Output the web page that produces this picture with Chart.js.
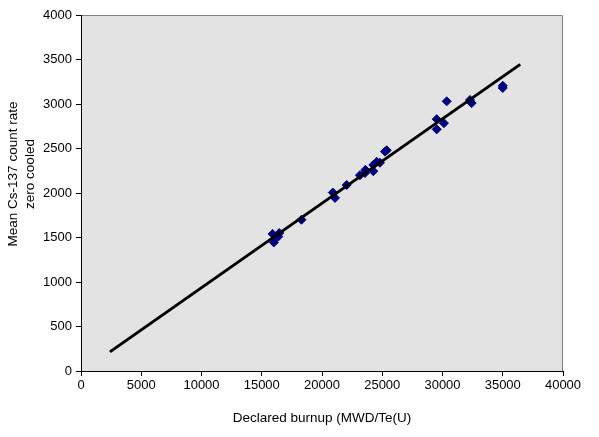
<!DOCTYPE html>
<html>
<head>
<meta charset="utf-8">
<script src="https://cdn.jsdelivr.net/npm/chart.js@4.4.0/dist/chart.umd.min.js"></script>
<style>
  html, body { margin: 0; padding: 0; background: #fff; }
  #wrap { width: 599px; height: 437px; }
</style>
</head>
<body>
<div id="wrap"><canvas id="chart" width="599" height="437"></canvas></div>
<script>
// measured points: declared burnup vs mean Cs-137 count rate
const burnup = [15900, 16000, 16450, 16370, 18300,
    20900, 21080, 22050, 23150, 23570, 24260, 23600,
    24260, 24540, 24810, 25370, 25230,
    29520, 29520, 30120, 30350, 32280, 32420, 35000, 35000];
const countRate = [1540, 1445, 1550, 1510, 1700,
    2005, 1945, 2090, 2200, 2225, 2245, 2260,
    2315, 2350, 2340, 2480, 2465,
    2830, 2715, 2785, 3030, 3045, 3010, 3180, 3205];

// fitted line end points
const fitX = [2400, 36450];
const fitY = [215, 3445];

const xTicks = [0, 5000, 10000, 15000, 20000, 25000, 30000, 35000, 40000];
const yTicks = [0, 500, 1000, 1500, 2000, 2500, 3000, 3500, 4000];

const FONT = 'Liberation Sans, Arial, sans-serif';

const plotBg = {
    id: 'plotBg',
    beforeDraw(chart) {
        const { ctx, chartArea: a } = chart;
        ctx.save();
        ctx.fillStyle = '#e3e3e3';
        ctx.fillRect(a.left, a.top, a.right - a.left, a.bottom - a.top);
        ctx.strokeStyle = '#808080';
        ctx.lineWidth = 1;
        ctx.beginPath();
        ctx.moveTo(a.left, a.top + 0.5);
        ctx.lineTo(a.right - 0.5, a.top + 0.5);
        ctx.lineTo(a.right - 0.5, a.bottom);
        ctx.stroke();
        ctx.restore();
    },
    afterDraw(chart) {
        // y axis title, two lines, sits a little above the axis centre like the original
        const ctx = chart.ctx;
        ctx.save();
        ctx.fillStyle = '#000';
        ctx.font = '13.5px ' + FONT;
        ctx.textAlign = 'center';
        ctx.textBaseline = 'middle';
        ctx.translate(13, 174);
        ctx.rotate(-Math.PI / 2);
        ctx.fillText('Mean Cs-137 count rate', 0, 0);
        ctx.fillText('zero cooled', 0, 17);
        ctx.restore();
    }
};

new Chart(document.getElementById('chart'), {
    type: 'scatter',
    data: {
        datasets: [
            {
                label: 'fit',
                data: fitX.map((x, i) => ({ x, y: fitY[i] })),
                showLine: true,
                borderColor: '#000',
                borderWidth: 3,
                pointRadius: 0,
                order: 0
            },
            {
                label: 'measured',
                data: burnup.map((x, i) => ({ x, y: countRate[i] })),
                pointStyle: 'rectRot',
                pointRadius: 4.5,
                backgroundColor: '#000080',
                borderColor: '#000080',
                borderWidth: 1,
                order: 1
            }
        ]
    },
    options: {
        responsive: false,
        animation: false,
        layout: { padding: { top: 15, right: 36, left: 0, bottom: 0 } },
        plugins: {
            legend: { display: false },
            tooltip: { enabled: false }
        },
        scales: {
            x: {
                type: 'linear',
                min: 0,
                max: 40000,
                afterBuildTicks: s => { s.ticks = xTicks.map(v => ({ value: v })); },
                afterFit: s => { s.height = 66; },
                ticks: {
                    color: '#000', font: { family: FONT, size: 13 }, padding: 2, maxRotation: 0,
                    callback: v => String(v)
                },
                grid: { drawOnChartArea: false, tickLength: 5, tickColor: '#000' },
                border: { color: '#000', width: 1 },
                title: {
                    display: true,
                    text: 'Declared burnup (MWD/Te(U)',
                    color: '#000',
                    font: { family: FONT, size: 13.5 },
                    padding: { top: 0, bottom: 11 }
                }
            },
            y: {
                min: 0,
                max: 4000,
                afterBuildTicks: s => { s.ticks = yTicks.map(v => ({ value: v })); },
                afterFit: s => { s.width = 81; },
                ticks: {
                    color: '#000', font: { family: FONT, size: 13 }, padding: 4,
                    callback: v => String(v)
                },
                grid: { drawOnChartArea: false, tickLength: 5, tickColor: '#000' },
                border: { color: '#000', width: 1 }
            }
        }
    },
    plugins: [plotBg]
});
</script>
</body>
</html>
